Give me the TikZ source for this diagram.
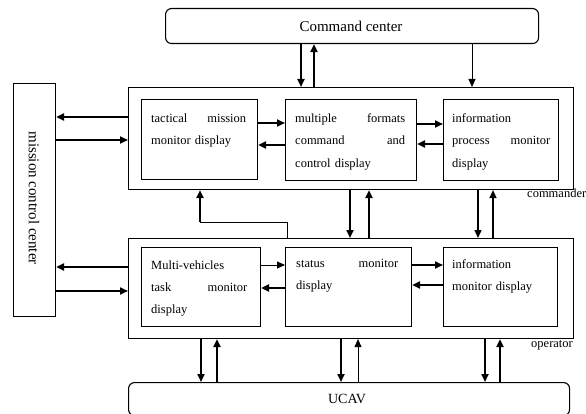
\documentclass[tikz,border=0pt]{standalone}
\usepackage{fontspec}
\setmainfont{Liberation Serif}
\usetikzlibrary{arrows.meta}
\begin{document}
\begin{tikzpicture}[x=1pt,y=-1pt,
  frame/.style={draw, line width=1.1pt, inner sep=0pt, anchor=north west, fill=white},
  rframe/.style={frame, rounded corners=6pt},
  txt/.style={anchor=north west, inner sep=0pt, align=left,
              font=\fontsize{12.5}{22}\selectfont},
  big/.style={inner sep=0pt, font=\fontsize{15}{18}\selectfont},
  tag/.style={inner sep=0pt, anchor=base west, font=\fontsize{12.5}{14}\selectfont},
  thk/.style={line width=1.9pt, -{Triangle[length=8pt,width=7pt]}},
  mid/.style={line width=1.3pt, -{Triangle[length=8pt,width=7pt]}},
  thn/.style={line width=0.9pt, -{Triangle[length=8pt,width=7pt]}}]
\useasboundingbox (0,0) rectangle (586,414);

% outer frames
\node[rframe, minimum width=373pt, minimum height=35pt] (cc) at (165,8) {};
\node[big] (ccT) at (351,26) {Command center};
\node[frame, minimum width=42pt, minimum height=233pt] (mcc) at (13,83) {};
\node[big, rotate=-90] (mccT) at (34,198) {mission control center};
\node[frame, minimum width=445pt, minimum height=102pt] (cmd) at (128,87) {};
\node[frame, minimum width=445pt, minimum height=100pt] (opr) at (128,238) {};
\node[rframe, minimum width=441pt, minimum height=33pt] (ucav) at (128,382) {};
\node[big, font=\fontsize{14}{16}\selectfont] (ucavT) at (347,399) {UCAV};
\node[tag] (cmdT) at (527,197) {commander};
\node[tag] (oprT) at (531,347) {operator};

% commander displays
\node[frame, minimum width=116pt, minimum height=80pt] (tac) at (141,99) {};
\node[frame, minimum width=131pt, minimum height=81pt] (mfc) at (285,99) {};
\node[frame, minimum width=115pt, minimum height=81pt] (ipm) at (443,99) {};
\node[txt, text width=95pt] (tacT) at (151,114) {tactical\hfill mission\\monitor display};
\node[txt, text width=110pt] (mfcT) at (295,114) {multiple\hfill formats\\command\hfill and\\control display};
\node[txt, text width=98pt] (ipmT) at (452,114) {information\\process\hfill monitor\\display};

% operator displays
\node[frame, minimum width=119pt, minimum height=79pt] (mvt) at (141,247) {};
\node[frame, minimum width=126pt, minimum height=79pt] (smd) at (285,247) {};
\node[frame, minimum width=114pt, minimum height=79pt] (imd) at (443,247) {};
\node[txt, text width=96pt] (mvtT) at (151,261) {Multi-vehicles\\task\hfill monitor\\display};
\node[txt, text width=102pt] (smdT) at (296,259) {status\hfill monitor\\display};
\node[txt, text width=100pt] (imdT) at (452,259) {information\\monitor display};

% guide coordinates for the connectors
\foreach \x in {200,201,217,287,301,314,341,350,358,369,472,478,485,493,500}
  \coordinate (x\x) at (\x,0);
\foreach \y in {117,123,124,140,144,145,222,265,267,285,288,291}
  \coordinate (y\y) at (0,\y);

% command center <-> commander
\draw[thk] (cc.south -| x301) -- (cmd.north -| x301);
\draw[thk] (cmd.north -| x314) -- (cc.south -| x314);
\draw[thn] (cc.south -| x472) -- (cmd.north -| x472);

% mission control center <-> commander / operator
\draw[thk] (cmd.west |- y117) -- (mcc.east |- y117);
\draw[thk] (mcc.east |- y140) -- (cmd.west |- y140);
\draw[thk] (opr.west |- y267) -- (mcc.east |- y267);
\draw[thk] (mcc.east |- y291) -- (opr.west |- y291);

% commander displays
\draw[thk] (tac.east |- y123) -- (mfc.west |- y123);
\draw[thk] (mfc.west |- y145) -- (tac.east |- y145);
\draw[thk] (mfc.east |- y124) -- (ipm.west |- y124);
\draw[thk] (ipm.west |- y144) -- (mfc.east |- y144);

% commander <-> operator
\draw[thk] (cmd.south -| x350) -- (opr.north -| x350);
\draw[thk] (opr.north -| x369) -- (cmd.south -| x369);
\draw[mid] (cmd.south -| x478) -- (opr.north -| x478);
\draw[mid] (opr.north -| x493) -- (cmd.south -| x493);
\draw[line width=0.9pt] (opr.north -| x287) -- (x287 |- y222) -- (x200 |- y222);
\draw[thk] (x200 |- y222) -- (cmd.south -| x200);

% operator displays
\draw[thn] (mvt.east |- y265) -- (smd.west |- y265);
\draw[thk] (smd.west |- y288) -- (mvt.east |- y288);
\draw[thk] (smd.east |- y265) -- (imd.west |- y265);
\draw[thk] (imd.west |- y285) -- (smd.east |- y285);

% operator <-> UCAV
\draw[thk] (opr.south -| x201) -- (ucav.north -| x201);
\draw[thk] (ucav.north -| x217) -- (opr.south -| x217);
\draw[thk] (opr.south -| x341) -- (ucav.north -| x341);
\draw[thn] (ucav.north -| x358) -- (opr.south -| x358);
\draw[thk] (opr.south -| x485) -- (ucav.north -| x485);
\draw[thk] (ucav.north -| x500) -- (opr.south -| x500);
\end{tikzpicture}
\end{document}
